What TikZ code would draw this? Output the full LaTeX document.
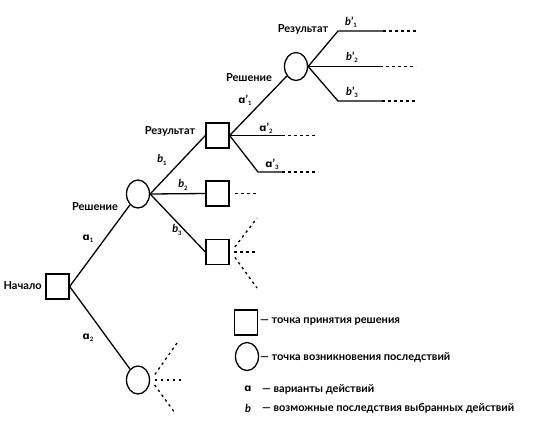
\documentclass[tikz,border=0pt]{standalone}
\usepackage{fontspec}
\setmainfont{Lato}
\newfontfamily\ipafont{DejaVu Sans}
\usetikzlibrary{shapes.geometric,calc}
\newcommand{\sub}[1]{\raisebox{-0.4ex}{\fontsize{6}{7}\selectfont #1}}
\newcommand{\aletter}{{\ipafont\fontsize{10}{12}\selectfont ɑ}}
\newcommand{\alab}[1]{\aletter\sub{#1}}
\newcommand{\aplab}[1]{\aletter’\sub{#1}}
\newcommand{\blab}[1]{\textit{b}\sub{#1}}
\newcommand{\bplab}[1]{\textit{b}’\sub{#1}}
\begin{document}
\begin{tikzpicture}[x=1pt,y=-1pt,
  every node/.style={font=\fontsize{11}{13}\selectfont\bfseries},
  sq/.style={draw,line width=1.3pt,rectangle,minimum width=23pt,minimum height=25pt,inner sep=0pt},
  ell/.style={draw,line width=1.3pt,ellipse,minimum width=23pt,minimum height=28pt,inner sep=0pt},
  br/.style={line width=1.3pt},
  dots/.style={line width=1.3pt,dash pattern=on 2.5pt off 3.5pt},
  lab/.style={inner sep=0pt}]
\useasboundingbox (0,0) rectangle (538,429);
% nodes
\node[sq] (start) at (57.5,286.5) {};
\node[ell] (c1) at (138,194) {};
\node[ell] (c2) at (138,380) {};
\node[sq] (B1) at (217.5,135.5) {};
\node[sq] (B2) at (217.5,193.5) {};
\node[sq] (B3) at (217.5,252) {};
\node[ell] (c3) at (296,66.5) {};
% free ends
\coordinate (c2s) at (151,380);
\coordinate (c2u) at (177,343);
\coordinate (c2m) at (183,380);
\coordinate (c2d) at (175,413);
\coordinate (B2s) at (235,193.5);
\coordinate (B2e) at (256,193.5);
\coordinate (B3s) at (231,252);
\coordinate (B3u) at (257,218);
\coordinate (B3m) at (256,252);
\coordinate (B3d) at (257,288);
\coordinate (a2e) at (282,135.5);
\coordinate (a2d) at (315,135.5);
\coordinate (a3k) at (258,172);
\coordinate (a3e) at (282,172);
\coordinate (a3d) at (318,172);
\coordinate (b1k) at (338,31);
\coordinate (b1e) at (383,31);
\coordinate (b1d) at (416,31);
\coordinate (b2e) at (380,66.5);
\coordinate (b2d) at (416,66.5);
\coordinate (b3k) at (338,101);
\coordinate (b3e) at (382,101);
\coordinate (b3d) at (416,101);
% branches
\draw[br] (start.east) -- (c1);
\draw[br] (start.east) -- (c2);
\draw[br] (c1.east) -- (B1.west);
\draw[br] (c1.east) -- (B2.west);
\draw[br] (c1.east) -- (B3.west);
\draw[br] (B1.east) -- (c3);
\draw[br] (B1.east) -- (a2e);
\draw[dots] (a2e) -- (a2d);
\draw[br] (B1.east) -- (a3k) -- (a3e);
\draw[dots] (a3e) -- (a3d);
\draw[br] (c3.east) -- (b1k) -- (b1e);
\draw[dots] (b1e) -- (b1d);
\draw[br] (c3.east) -- (b2e);
\draw[dots] (b2e) -- (b2d);
\draw[br] (c3.east) -- (b3k) -- (b3e);
\draw[dots] (b3e) -- (b3d);
\draw[dots] ($(c2s)!0.15!(c2u)$) -- (c2u);
\draw[dots] ($(c2s)!0.12!(c2m)$) -- (c2m);
\draw[dots] ($(c2s)!0.15!(c2d)$) -- (c2d);
\draw[dots] (B2s) -- (B2e);
\draw[dots] ($(B3s)!0.15!(B3u)$) -- (B3u);
\draw[dots] ($(B3s)!0.12!(B3m)$) -- (B3m);
\draw[dots] ($(B3s)!0.15!(B3d)$) -- (B3d);
% labels
\node[lab,anchor=east] (tstart) at (42,286) {Начало};
\node[lab] (tr1) at (95,207) {Решение};
\node[lab] (ta1) at (88,239) {\alab{1}};
\node[lab] (ta2) at (88,338) {\alab{2}};
\node[lab] (tres1) at (170,131) {Результат};
\node[lab] (tb1) at (162,160) {\blab{1}};
\node[lab] (tb2) at (183,185) {\blab{2}};
\node[lab] (tb3) at (177,230) {\blab{3}};
\node[lab] (tr2) at (249,78) {Решение};
\node[lab] (tap1) at (245,100) {\aplab{1}};
\node[lab] (tap2) at (266,128) {\aplab{2}};
\node[lab] (tap3) at (272,164) {\aplab{3}};
\node[lab] (tres2) at (303,29) {Результат};
\node[lab] (tbp1) at (351,22) {\bplab{1}};
\node[lab] (tbp2) at (352,57) {\bplab{2}};
\node[lab] (tbp3) at (352,92) {\bplab{3}};
% legend
\node[sq] (lsq) at (246,322.5) {};
\node[lab,anchor=west] (lsqt) at (260,322) {— точка принятия решения};
\node[ell] (lel) at (247,356.5) {};
\node[lab,anchor=west] (lelt) at (260,357) {— точка возникновения последствий};
\node[lab] (la) at (248,389) {\aletter};
\node[lab,anchor=west] (lat) at (262,389) {— варианты действий};
\node[lab] (lb) at (248,408) {\textit{b}};
\node[lab,anchor=west] (lbt) at (262,408) {— возможные последствия выбранных действий};
\end{tikzpicture}
\end{document}
